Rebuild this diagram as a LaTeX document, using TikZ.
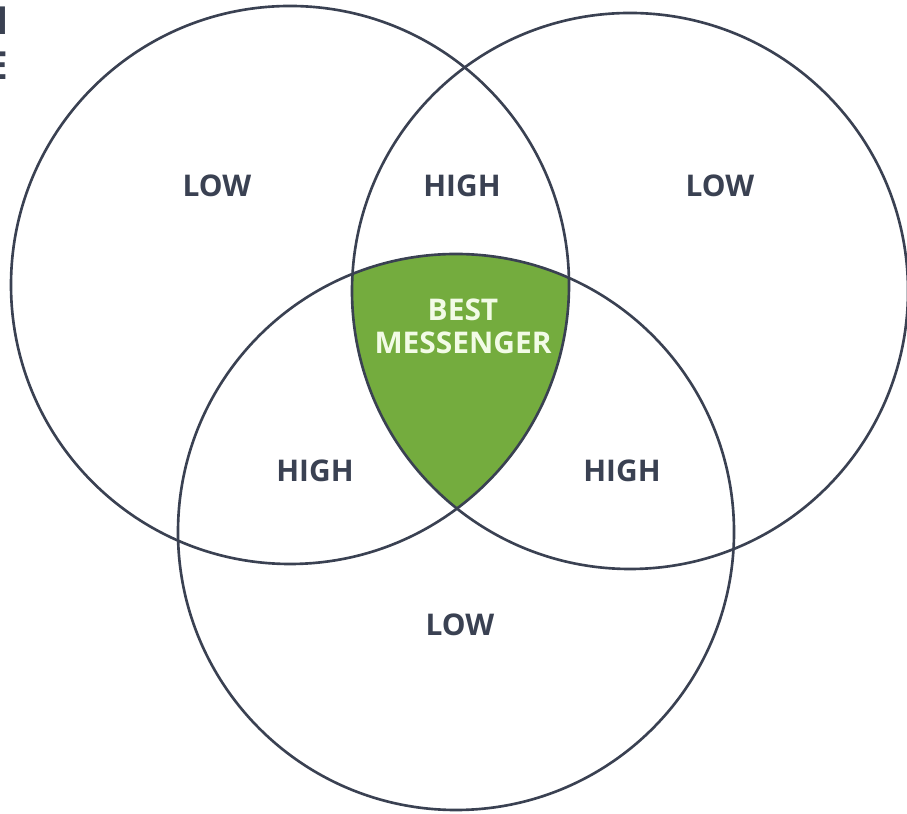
\documentclass[tikz,border=0pt]{standalone}
\usepackage{fontspec}
\setmainfont{Open Sans}
\definecolor{ringgray}{HTML}{3A4152}
\definecolor{bestgreen}{HTML}{74AC3E}
\definecolor{besttext}{HTML}{F2FBE6}
\begin{document}
\begin{tikzpicture}[
        ring/.style={draw=ringgray, line width=1.5pt},
        lbl/.style={text=ringgray, font=\bfseries\fontsize{17}{19}\selectfont}]
    \useasboundingbox (0,0) rectangle (18.14,16.26);
    \coordinate (cl) at (5.80,10.56);
    \coordinate (cr) at (12.60,10.44);
    \coordinate (cb) at (9.12,5.62);

    % middle part
    \begin{scope}
        \clip (cl) circle (5.58);
        \clip (cr) circle (5.56);
        \fill[bestgreen] (cb) circle (5.56);
    \end{scope}

    \draw[ring] (cl) circle (5.58);
    \draw[ring] (cr) circle (5.56);
    \draw[ring] (cb) circle (5.56);

    % cut off title
    \node[text=ringgray, font=\bfseries\fontsize{22}{26}\selectfont, anchor=east, inner sep=0pt] (titlea) at (0.19,15.84) {N};
    \node[text=ringgray, font=\bfseries\fontsize{22}{26}\selectfont, anchor=east, inner sep=0pt] (titleb) at (0.17,14.94) {E};

    \node[lbl] (lowleft) at (4.34,12.54) {LOW};
    \node[lbl] (hightop) at (9.24,12.54) {HIGH};
    \node[lbl] (lowright) at (14.40,12.54) {LOW};
    \node[lbl, text=besttext, align=center] (best) at (9.26,9.73) {BEST\\MESSENGER};
    \node[lbl] (highleft) at (6.30,6.84) {HIGH};
    \node[lbl] (highright) at (12.44,6.84) {HIGH};
    \node[lbl] (lowbottom) at (9.20,3.76) {LOW};
\end{tikzpicture}
\end{document}
